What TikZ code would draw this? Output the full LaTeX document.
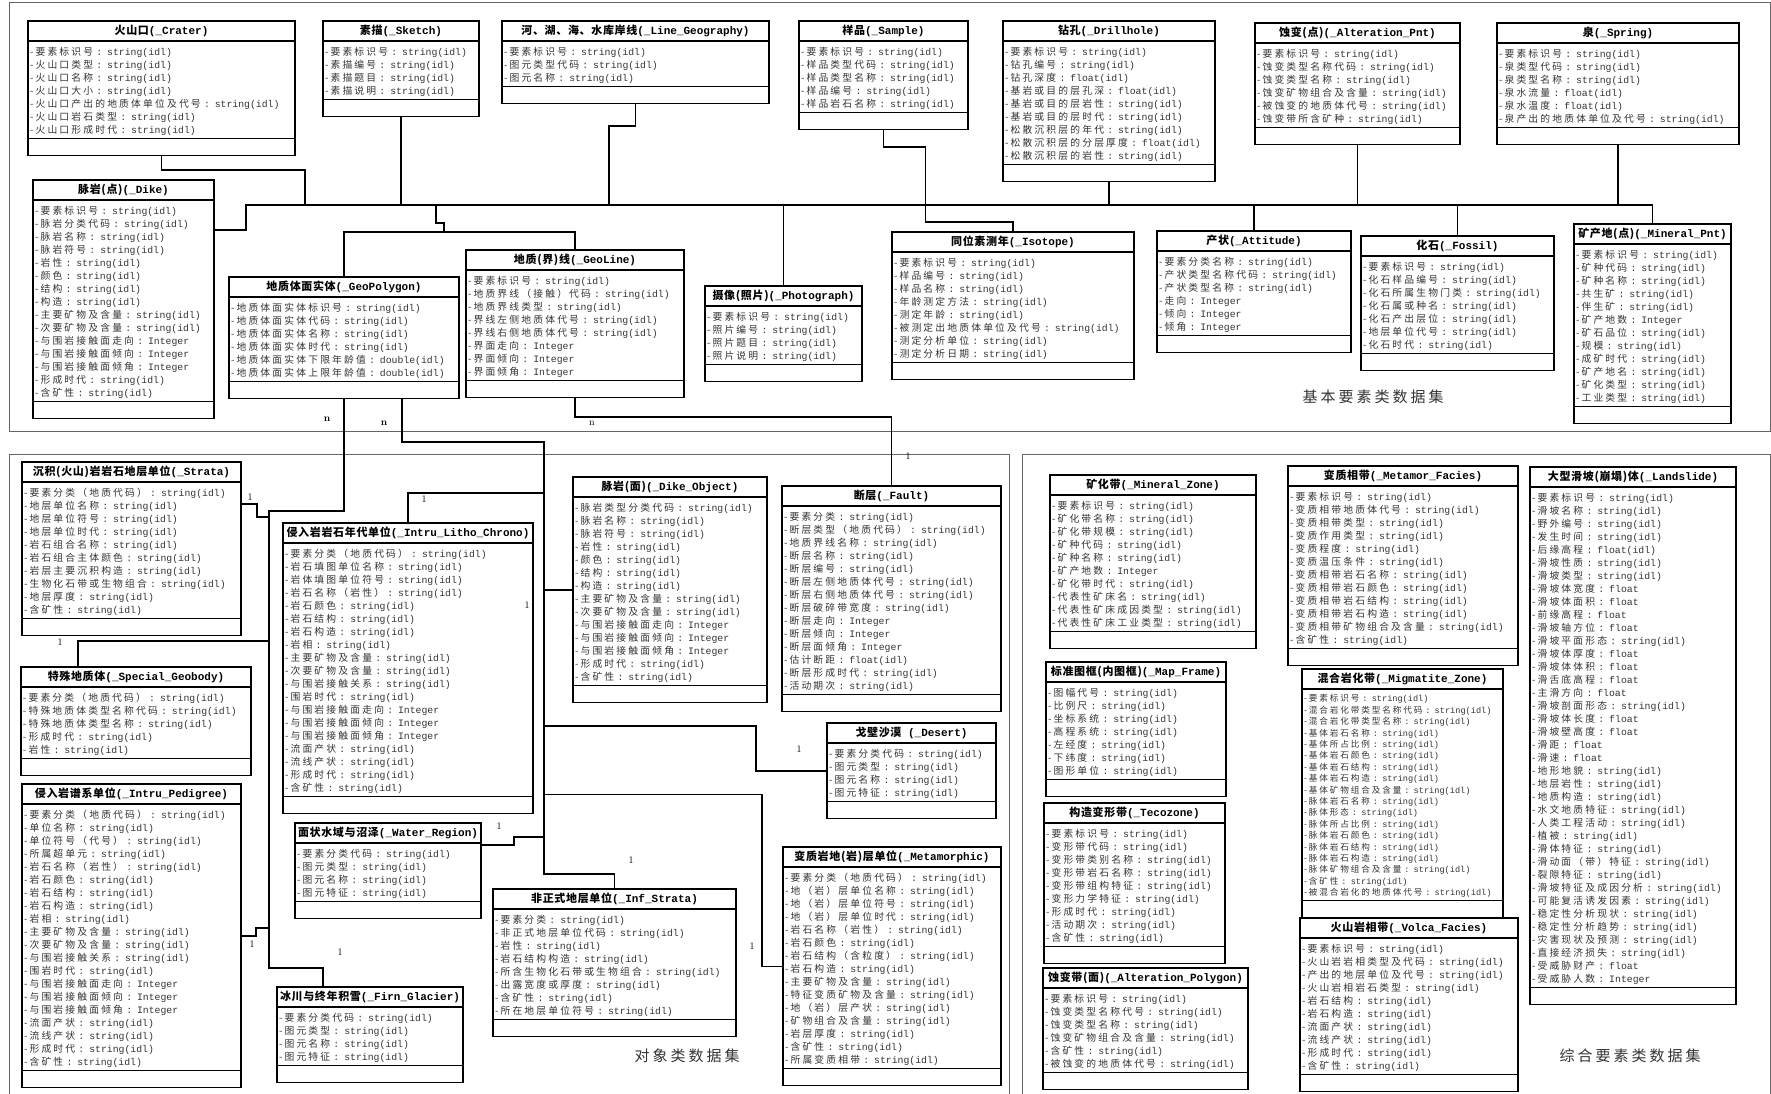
\documentclass[tikz,border=0pt]{standalone}
\usepackage{fontspec}
\setmonofont{Liberation Mono}
\newfontfamily\cjkattr[LetterSpace=22]{Noto Sans CJK SC}
\newfontfamily\cjktitle[LetterSpace=6]{Noto Sans CJK SC}
\newfontfamily\cjklabel[LetterSpace=20]{Noto Sans CJK SC}
\usepackage{tikz}
\usetikzlibrary{fit}

\newcommand\attrfont{\fontsize{9.8}{13}\selectfont\ttfamily}
\newcommand\smallattrfont{\fontsize{8.6}{11.4}\selectfont\ttfamily}
\newcommand\titlefont{\fontsize{11}{14}\selectfont\ttfamily\bfseries}
\newcommand\umlattr[2]{\par\noindent\mbox{\strut{\cjkattr -#1} : #2}}
\newcommand\astr[1]{\umlattr{#1}{string(idl)}}
\newcommand\aint[1]{\umlattr{#1}{Integer}}
\newcommand\aflt[1]{\umlattr{#1}{float(idl)}}
\newcommand\afl[1]{\umlattr{#1}{float}}
\newcommand\adbl[1]{\umlattr{#1}{double(idl)}}
\newcommand\umltitle[2]{{\cjktitle #1}(\_#2)}
% class box: [attr style] name, x, y, width, title, attributes
\newcommand\umlclass[7][]{%
  \pgfmathsetlengthmacro\clsw{#5pt}%
  \pgfmathsetlengthmacro\clstw{#5pt-4pt}%
  \node[clstitle, minimum width=\clsw] (#2-t) at (#3,#4) {#6};
  \node[clsattr, text width=\clstw, #1] (#2-a) at (#2-t.south west) {#7};
  \node[clsops, minimum width=\clsw] (#2-o) at (#2-a.south west) {};
  \node[fit=(#2-t)(#2-o), inner sep=0pt] (#2) {};
}

\begin{document}
\begin{tikzpicture}[
    x=1pt, y=-1pt,
    clstitle/.style={draw, line width=1.1pt, anchor=north west, minimum height=20pt,
      inner sep=0pt, outer sep=0pt, font=\titlefont},
    clsattr/.style={draw, line width=1.1pt, anchor=north west, align=left, inner xsep=2pt,
      inner ysep=1.5pt, outer sep=0pt, font=\attrfont, text=black!80},
    clsops/.style={draw, line width=1.1pt, anchor=north west, minimum height=17pt,
      inner sep=0pt, outer sep=0pt},
    link/.style={line width=1.8pt},
    panel/.style={draw=black!60, line width=0.9pt},
    mult/.style={font=\rmfamily\fontsize{10}{12}\selectfont, inner sep=0pt},
    setname/.style={font={\fontsize{15}{18}\selectfont\cjklabel}, text=black!80, inner sep=0pt}
  ]
  \useasboundingbox (0,0) rectangle (1771,1093);

  % Panels
  \draw[panel] (9,2) rectangle (1770,431);
  \draw[panel] (9,1100) |- (1009,454) -- (1009,1100);
  \draw[panel] (1022,1100) |- (1770,454) -- (1770,1100);

  % Basic feature classes
  \umlclass{crater}{28}{21}{267}{\umltitle{火山口}{Crater}}{\astr{要素标识号}\astr{火山口类型}\astr{火山口名称}\astr{火山口大小}\astr{火山口产出的地质体单位及代号}\astr{火山口岩石类型}\astr{火山口形成时代}}
  \umlclass{sketch}{323}{21}{156}{\umltitle{素描}{Sketch}}{\astr{要素标识号}\astr{素描编号}\astr{素描题目}\astr{素描说明}}
  \umlclass{linegeo}{502}{21}{267}{\umltitle{河、湖、海、水库岸线}{Line\_Geography}}{\astr{要素标识号}\astr{图元类型代码}\astr{图元名称}}
  \umlclass{sample}{799}{21}{169}{\umltitle{样品}{Sample}}{\astr{要素标识号}\astr{样品类型代码}\astr{样品类型名称}\astr{样品编号}\astr{样品岩石名称}}
  \umlclass{drillhole}{1003}{21}{212}{\umltitle{钻孔}{Drillhole}}{\astr{要素标识号}\astr{钻孔编号}\aflt{钻孔深度}\aflt{基岩或目的层孔深}\astr{基岩或目的层岩性}\astr{基岩或目的层时代}\astr{松散沉积层的年代}\aflt{松散沉积层的分层厚度}\astr{松散沉积层的岩性}}
  \umlclass{altpnt}{1255}{23}{205}{\umltitle{蚀变(点)}{Alteration\_Pnt}}{\astr{要素标识号}\astr{蚀变类型名称代码}\astr{蚀变类型名称}\astr{蚀变矿物组合及含量}\astr{被蚀变的地质体代号}\astr{蚀变带所含矿种}}
  \umlclass{spring}{1497}{23}{242}{\umltitle{泉}{Spring}}{\astr{要素标识号}\astr{泉类型代码}\astr{泉类型名称}\aflt{泉水流量}\aflt{泉水温度}\astr{泉产出的地质体单位及代号}}
  \umlclass{dike}{33}{180}{181}{\umltitle{脉岩(点)}{Dike}}{\astr{要素标识号}\astr{脉岩分类代码}\astr{脉岩名称}\astr{脉岩符号}\astr{岩性}\astr{颜色}\astr{结构}\astr{构造}\astr{主要矿物及含量}\astr{次要矿物及含量}\aint{与围岩接触面走向}\aint{与围岩接触面倾向}\aint{与围岩接触面倾角}\astr{形成时代}\astr{含矿性}}
  \umlclass{geopolygon}{229}{277}{230}{\umltitle{地质体面实体}{GeoPolygon}}{\astr{地质体面实体标识号}\astr{地质体面实体代码}\astr{地质体面实体名称}\astr{地质体面实体时代}\adbl{地质体面实体下限年龄值}\adbl{地质体面实体上限年龄值}}
  \umlclass{geoline}{466}{250}{218}{\umltitle{地质(界)线}{GeoLine}}{\astr{要素标识号}\astr{地质界线（接触）代码}\astr{地质界线类型}\astr{界线左侧地质体代号}\astr{界线右侧地质体代号}\aint{界面走向}\aint{界面倾向}\aint{界面倾角}}
  \umlclass{photo}{705}{286}{157}{\umltitle{摄像(照片)}{Photograph}}{\astr{要素标识号}\astr{照片编号}\astr{照片题目}\astr{照片说明}}
  \umlclass{isotope}{892}{232}{242}{\umltitle{同位素测年}{Isotope}}{\astr{要素标识号}\astr{样品编号}\astr{样品名称}\astr{年龄测定方法}\astr{测定年龄}\astr{被测定出地质体单位及代号}\astr{测定分析单位}\astr{测定分析日期}}
  \umlclass{attitude}{1157}{231}{194}{\umltitle{产状}{Attitude}}{\astr{要素分类名称}\astr{产状类型名称代码}\astr{产状类型名称}\aint{走向}\aint{倾向}\aint{倾角}}
  \umlclass{fossil}{1361}{236}{193}{\umltitle{化石}{Fossil}}{\astr{要素标识号}\astr{化石样品编号}\astr{化石所属生物门类}\astr{化石属或种名}\astr{化石产出层位}\astr{地层单位代号}\astr{化石时代}}
  \umlclass{mineralpnt}{1574}{224}{157}{\umltitle{矿产地(点)}{Mineral\_Pnt}}{\astr{要素标识号}\astr{矿种代码}\astr{矿种名称}\astr{共生矿}\astr{伴生矿}\aint{矿产地数}\astr{矿石品位}\astr{规模}\astr{成矿时代}\astr{矿产地名}\astr{矿化类型}\astr{工业类型}}

  % Object classes
  \umlclass{strata}{22}{462}{219}{\umltitle{沉积(火山)岩岩石地层单位}{Strata}}{\astr{要素分类（地质代码）}\astr{地层单位名称}\astr{地层单位符号}\astr{地层单位时代}\astr{岩石组合名称}\astr{岩石组合主体颜色}\astr{岩层主要沉积构造}\astr{生物化石带或生物组合}\astr{地层厚度}\astr{含矿性}}
  \umlclass{special}{21}{667}{230}{\umltitle{特殊地质体}{Special\_Geobody}}{\astr{要素分类（地质代码）}\astr{特殊地质体类型名称代码}\astr{特殊地质体类型名称}\astr{形成时代}\astr{岩性}}
  \umlclass{pedigree}{22}{784}{219}{\umltitle{侵入岩谱系单位}{Intru\_Pedigree}}{\astr{要素分类（地质代码）}\astr{单位名称}\astr{单位符号（代号）}\astr{所属超单元}\astr{岩石名称（岩性）}\astr{岩石颜色}\astr{岩石结构}\astr{岩石构造}\astr{岩相}\astr{主要矿物及含量}\astr{次要矿物及含量}\astr{与围岩接触关系}\astr{围岩时代}\aint{与围岩接触面走向}\aint{与围岩接触面倾向}\aint{与围岩接触面倾角}\astr{流面产状}\astr{流线产状}\astr{形成时代}\astr{含矿性}}
  \umlclass{litho}{283}{523}{250}{\umltitle{侵入岩岩石年代单位}{Intru\_Litho\_Chrono}}{\astr{要素分类（地质代码）}\astr{岩石填图单位名称}\astr{岩体填图单位符号}\astr{岩石名称（岩性）}\astr{岩石颜色}\astr{岩石结构}\astr{岩石构造}\astr{岩相}\astr{主要矿物及含量}\astr{次要矿物及含量}\astr{与围岩接触关系}\astr{围岩时代}\aint{与围岩接触面走向}\aint{与围岩接触面倾向}\aint{与围岩接触面倾角}\astr{流面产状}\astr{流线产状}\astr{形成时代}\astr{含矿性}}
  \umlclass{water}{295}{823}{186}{\umltitle{面状水域与沼泽}{Water\_Region}}{\astr{要素分类代码}\astr{图元类型}\astr{图元名称}\astr{图元特征}}
  \umlclass{firn}{277}{987}{186}{\umltitle{冰川与终年积雪}{Firn\_Glacier}}{\astr{要素分类代码}\astr{图元类型}\astr{图元名称}\astr{图元特征}}
  \umlclass{dikeobj}{573}{477}{194}{\umltitle{脉岩(面)}{Dike\_Object}}{\astr{脉岩类型分类代码}\astr{脉岩名称}\astr{脉岩符号}\astr{岩性}\astr{颜色}\astr{结构}\astr{构造}\astr{主要矿物及含量}\astr{次要矿物及含量}\aint{与围岩接触面走向}\aint{与围岩接触面倾向}\aint{与围岩接触面倾角}\astr{形成时代}\astr{含矿性}}
  \umlclass{fault}{782}{486}{219}{\umltitle{断层}{Fault}}{\astr{要素分类}\astr{断层类型（地质代码）}\astr{地质界线名称}\astr{断层名称}\astr{断层编号}\astr{断层左侧地质体代号}\astr{断层右侧地质体代号}\astr{断层破碎带宽度}\aint{断层走向}\aint{断层倾向}\aint{断层面倾角}\aflt{估计断距}\astr{断层形成时代}\astr{活动期次}}
  \umlclass{desert}{827}{723}{169}{{\cjktitle 戈壁沙漠} (\_Desert)}{\astr{要素分类代码}\astr{图元类型}\astr{图元名称}\astr{图元特征}}
  \umlclass{metamorphic}{783}{847}{218}{\umltitle{变质岩地(岩)层单位}{Metamorphic}}{\astr{要素分类（地质代码）}\astr{地（岩）层单位名称}\astr{地（岩）层单位符号}\astr{地（岩）层单位时代}\astr{岩石名称（岩性）}\astr{岩石颜色}\astr{岩石结构（含粒度）}\astr{岩石构造}\astr{主要矿物及含量}\astr{特征变质矿物及含量}\astr{地（岩）层产状}\astr{矿物组合及含量}\astr{岩层厚度}\astr{含矿性}\astr{所属变质相带}}
  \umlclass{infstrata}{493}{889}{243}{\umltitle{非正式地层单位}{Inf\_Strata}}{\astr{要素分类}\astr{非正式地层单位代码}\astr{岩性}\astr{岩石结构构造}\astr{所含生物化石带或生物组合}\astr{出露宽度或厚度}\astr{含矿性}\astr{所在地层单位符号}}

  % Composite feature classes
  \umlclass{minzone}{1050}{475}{206}{\umltitle{矿化带}{Mineral\_Zone}}{\astr{要素标识号}\astr{矿化带名称}\astr{矿化带规模}\astr{矿种代码}\astr{矿种名称}\aint{矿产地数}\astr{矿化带时代}\astr{代表性矿床名}\astr{代表性矿床成因类型}\astr{代表性矿床工业类型}}
  \umlclass{mapframe}{1046}{662}{180}{\umltitle{标准图框(内图框)}{Map\_Frame}}{\astr{图幅代号}\astr{比例尺}\astr{坐标系统}\astr{高程系统}\astr{左经度}\astr{下纬度}\astr{图形单位}}
  \umlclass{tecozone}{1044}{803}{181}{\umltitle{构造变形带}{Tecozone}}{\astr{要素标识号}\astr{变形带代码}\astr{变形带类别名称}\astr{变形带岩石名称}\astr{变形带组构特征}\astr{变形力学特征}\astr{形成时代}\astr{活动期次}\astr{含矿性}}
  \umlclass{altpoly}{1043}{968}{205}{\umltitle{蚀变带(面)}{Alteration\_Polygon}}{\astr{要素标识号}\astr{蚀变类型名称代号}\astr{蚀变类型名称}\astr{蚀变矿物组合及含量}\astr{含矿性}\astr{被蚀变的地质体代号}}
  \umlclass{metafacies}{1288}{466}{230}{\umltitle{变质相带}{Metamor\_Facies}}{\astr{要素标识号}\astr{变质相带地质体代号}\astr{变质相带类型}\astr{变质作用类型}\astr{变质程度}\astr{变质温压条件}\astr{变质相带岩石名称}\astr{变质相带岩石颜色}\astr{变质相带岩石结构}\astr{变质相带岩石构造}\astr{变质相带矿物组合及含量}\astr{含矿性}}
  \umlclass[font=\smallattrfont]{migmatite}{1302}{669}{201}{\umltitle{混合岩化带}{Migmatite\_Zone}}{\astr{要素标识号}\astr{混合岩化带类型名称代码}\astr{混合岩化带类型名称}\astr{基体岩石名称}\astr{基体所占比例}\astr{基体岩石颜色}\astr{基体岩石结构}\astr{基体岩石构造}\astr{基体矿物组合及含量}\astr{脉体岩石名称}\astr{脉体形态}\astr{脉体所占比例}\astr{脉体岩石颜色}\astr{脉体岩石结构}\astr{脉体岩石构造}\astr{脉体矿物组合及含量}\astr{含矿性}\astr{被混合岩化的地质体代号}}
  \umlclass{volca}{1300}{918}{218}{\umltitle{火山岩相带}{Volca\_Facies}}{\astr{要素标识号}\astr{火山岩岩相类型及代码}\astr{产出的地层单位及代号}\astr{火山岩相岩石类型}\astr{岩石结构}\astr{岩石构造}\astr{流面产状}\astr{流线产状}\astr{形成时代}\astr{含矿性}}
  \umlclass{landslide}{1530}{467}{206}{\umltitle{大型滑坡(崩塌)体}{Landslide}}{\astr{要素标识号}\astr{滑坡名称}\astr{野外编号}\astr{发生时间}\aflt{后缘高程}\astr{滑坡性质}\astr{滑坡类型}\afl{滑坡体宽度}\afl{滑坡体面积}\afl{前缘高程}\afl{滑坡轴方位}\astr{滑坡平面形态}\afl{滑坡体厚度}\afl{滑坡体体积}\afl{滑舌底高程}\afl{主滑方向}\astr{滑坡剖面形态}\afl{滑坡体长度}\afl{滑坡壁高度}\afl{滑距}\afl{滑速}\astr{地形地貌}\astr{地层岩性}\astr{地质构造}\astr{水文地质特征}\astr{人类工程活动}\astr{植被}\astr{滑体特征}\astr{滑动面（带）特征}\astr{裂隙特征}\astr{滑坡特征及成因分析}\astr{可能复活诱发因素}\astr{稳定性分析现状}\astr{稳定性分析趋势}\astr{灾害现状及预测}\astr{直接经济损失}\afl{受威胁财产}\aint{受威胁人数}}

  % Links, basic feature bus
  \coordinate (bus-w) at (246,205);
  \draw[link] ([yshift=-50pt]dike.north east) -| (bus-w) -- (bus-w -| mineralpnt.north) -- (mineralpnt.north);
  \draw[link] (crater.south) -- ++(0,14) -| ([xshift=59pt]bus-w);
  \draw[link] (sketch.south) -- (sketch.south |- bus-w);
  \draw[link] (linegeo.south) -- ++(0,22) -| ([xshift=363pt]bus-w);
  \draw[link] (geopolygon.north) -- ++(0,-45) -| (geoline.north);
  \draw[link] ([xshift=190pt]bus-w) -- ++(0,18) -- ++(8,0) -- ++(0,9);
  \draw[link] (photo.north) -- (photo.north |- bus-w);
  \draw[link] (sample.south) -- ++(0,17) -- ++(42,0) -- ++(0,75) -| (isotope.north);
  \draw[link] (drillhole.south) -- (drillhole.south |- bus-w);
  \draw[link] (attitude.north) -- (attitude.north |- bus-w);
  \draw[link] (altpnt.south) -- (altpnt.south |- bus-w);
  \draw[link] (fossil.north) -- (fossil.north |- bus-w);
  \draw[link] (spring.south) -- (spring.south |- bus-w);

  % Links, object classes
  \coordinate (trunk-a) at (269,511);
  \coordinate (trunk-b) at (544,442);
  \draw[link] (geopolygon.south) |- (trunk-a) -- ++(0,457) -| ([xshift=46pt]firn.north west);
  \draw[link] ([yshift=-42pt]strata.north east) -- ++(16,0) -- ++(0,13) -| (trunk-a);
  \draw[link] ([xshift=57pt]special.north west) -- ++(0,-26) -| (trunk-a);
  \draw[link] (pedigree.east) -- ++(15,0) -- ++(0,-8) -| (trunk-a);
  \draw[link] ([xshift=58pt]geopolygon.south) |- (trunk-b) -- ++(0,432) -| (infstrata.north);
  \draw[link] (litho.north) -- ++(0,-30) -| (trunk-b);
  \draw[link] (dikeobj.west) -| (trunk-b);
  \draw[link] (desert.west) -- ++(-71,0) -- ++(0,-45) -| (trunk-b);
  \draw[link] (metamorphic.west) -- ++(-21,0) -- ++(0,-172) -| (trunk-b);
  \draw[link] ([yshift=-22pt]water.north east) -- ++(33,0) -- ++(0,-8) -| (trunk-b);
  \draw[link] (geoline.south) -- ++(0,19) -| (fault.north);

  % Multiplicities
  \node[mult, font=\rmfamily\bfseries\fontsize{10}{12}\selectfont] (m-poly-a) at (327,419) {n};
  \node[mult, font=\rmfamily\bfseries\fontsize{10}{12}\selectfont] (m-poly-b) at (384,423) {n};
  \node[mult] (m-line) at (592,423) {n};
  \node[mult] (m-strata) at (250,497) {1};
  \node[mult] (m-litho) at (424,499) {1};
  \node[mult] (m-fault) at (908,456) {1};
  \node[mult] (m-dikeobj) at (527,605) {1};
  \node[mult] (m-special) at (60,642) {1};
  \node[mult] (m-desert) at (799,749) {1};
  \node[mult] (m-water) at (499,826) {1};
  \node[mult] (m-infstrata) at (631,860) {1};
  \node[mult] (m-pedigree) at (252,944) {1};
  \node[mult] (m-metamorphic) at (752,946) {1};
  \node[mult] (m-firn) at (340,952) {1};

  % Data set names
  \node[setname] (set-basic) at (1373,397) {基本要素类数据集};
  \node[setname] (set-object) at (687,1056) {对象类数据集};
  \node[setname] (set-compound) at (1630,1056) {综合要素类数据集};
\end{tikzpicture}
\end{document}
